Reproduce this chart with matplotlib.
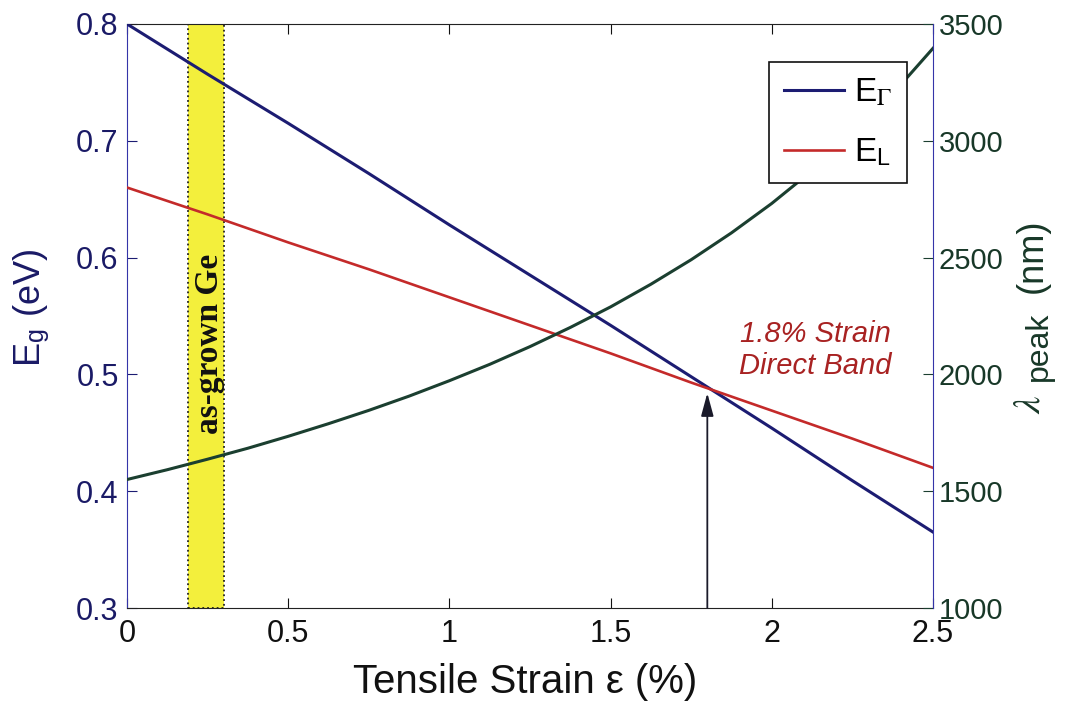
import matplotlib
matplotlib.use("Agg")
import matplotlib.pyplot as plt

plt.rcParams['font.family'] = ['Liberation Sans', 'DejaVu Sans']
plt.rcParams['mathtext.fontset'] = 'stix'

# Tensile strain (%)
strain = [0.0, 0.25, 0.5, 0.75, 1.0, 1.25, 1.5, 1.75, 2.0, 2.25, 2.5]
# Direct (Gamma) and indirect (L) band gaps (eV)
e_gamma = [0.800, 0.757, 0.715, 0.672, 0.628, 0.585, 0.542, 0.498, 0.454, 0.409, 0.365]
e_l = [0.660, 0.637, 0.613, 0.590, 0.566, 0.542, 0.518, 0.493, 0.469, 0.445, 0.420]

# Peak emission wavelength (nm)
strain_fine = [0.0, 0.125, 0.25, 0.375, 0.5, 0.625, 0.75, 0.875, 1.0, 1.125, 1.25,
               1.375, 1.5, 1.625, 1.75, 1.875, 2.0, 2.125, 2.25, 2.375, 2.5]
lambda_peak = [1550, 1592, 1637, 1684, 1735, 1789, 1846, 1907, 1973, 2043, 2119,
               2201, 2289, 2386, 2491, 2606, 2732, 2872, 3028, 3201, 3396]

as_grown_range = [0.19, 0.30]
direct_strain = 1.8
direct_gap = 0.484

x_ticks = [0, 0.5, 1, 1.5, 2, 2.5]
x_ticklabels = ['0', '0.5', '1', '1.5', '2', '2.5']
left_ticks = [0.3, 0.4, 0.5, 0.6, 0.7, 0.8]
right_ticks = [1000, 1500, 2000, 2500, 3000, 3500]

navy = '#1c1c72'
red = '#c42a2a'
green = '#1b3f30'
label_navy = '#1a1a66'
label_green = '#183828'

W, H = 1073, 705
fig = plt.figure(figsize=(W / 100, H / 100), dpi=100)
ax1 = fig.add_axes([127 / W, 1 - 608 / H, 806 / W, 584 / H])

ax1.axvspan(as_grown_range[0], as_grown_range[1], facecolor='#f3ef3c',
            edgecolor='#222222', linestyle=':', linewidth=1.3, zorder=0)
ax1.text(0.257, 0.526, 'as-grown Ge', rotation=90,
         ha='center', va='center', fontsize=24, fontweight='bold',
         family=['Liberation Serif', 'DejaVu Serif'], color='#111111', zorder=1)

l1, = ax1.plot(strain, e_gamma, color=navy, lw=2.2, zorder=3)
l2, = ax1.plot(strain, e_l, color=red, lw=1.9, zorder=3)

ax1.set_xlim(0, 2.5)
ax1.set_ylim(0.3, 0.8)
ax1.set_xticks(x_ticks)
ax1.set_xticklabels(x_ticklabels)
ax1.set_yticks(left_ticks)
ax1.set_yticklabels(['0.3', '0.4', '0.5', '0.6', '0.7', '0.8'])
ax1.tick_params(axis='x', direction='in', length=7, labelsize=22, top=True,
                pad=8, colors='#111111')
ax1.tick_params(axis='y', direction='in', length=7, labelsize=22,
                colors=navy, labelcolor=label_navy, pad=6)
ax1.spines['left'].set_color('#3434a8')
ax1.spines['bottom'].set_color('#222222')
ax1.spines['top'].set_color('#222222')
ax1.spines['right'].set_visible(False)
ax1.set_xlabel('Tensile Strain ε (%)', fontsize=29, color='#111111')
ax1.xaxis.set_label_coords(0.494, -0.094)
ax1.set_ylabel(r'E$_{\mathregular{g}}$ (eV)', fontsize=26, color=label_navy)
ax1.yaxis.set_label_coords(-0.093, 0.514)

ax1.annotate('', xy=(direct_strain, direct_gap), xytext=(direct_strain, 0.3),
             arrowprops=dict(arrowstyle='-|>,head_width=0.38,head_length=1.4',
                             color='#1a1a2a', lw=1.3, shrinkA=0, shrinkB=0),
             zorder=4)
ax1.text(2.134, 0.521, '1.8% Strain\nDirect Band', color='#a82222', style='italic',
         fontsize=21, ha='center', va='center', linespacing=1.15)

ax2 = ax1.twinx()
ax2.plot(strain_fine, lambda_peak, color=green, lw=2.2, zorder=2)
ax2.set_ylim(1000, 3500)
ax2.set_yticks(right_ticks)
ax2.set_yticklabels([str(v) for v in right_ticks])
ax2.tick_params(axis='y', direction='in', length=7, labelsize=21,
                colors=green, labelcolor=label_green, pad=4)
ax2.spines['right'].set_color('#3434a8')
for s in ('left', 'top', 'bottom'):
    ax2.spines[s].set_visible(False)

# Right-hand axis label, built from pieces so the subscript stays large
fig.text(1030 / W, 1 - 404 / H, r'$\lambda$', rotation=90, ha='center', va='center',
         fontsize=28, color=label_green)
fig.text(1039 / W, 1 - 346 / H, 'peak', rotation=90, ha='center', va='center',
         fontsize=23, color=label_green)
fig.text(1032 / W, 1 - 256 / H, '(nm)', rotation=90, ha='center', va='center',
         fontsize=26, color=label_green)

leg = ax2.legend([l1, l2], [r'E$_{\Gamma}$', r'E$_{\mathregular{L}}$'],
                 loc='upper right', bbox_to_anchor=(0.968, 0.935),
                 fontsize=24, frameon=True, fancybox=False, framealpha=1,
                 edgecolor='#111111', handlelength=1.8, handletextpad=0.3,
                 borderpad=0.45, labelspacing=0.85, borderaxespad=0)
leg.get_frame().set_linewidth(1.2)
leg.set_zorder(10)

fig.savefig('out.png', dpi=100)
